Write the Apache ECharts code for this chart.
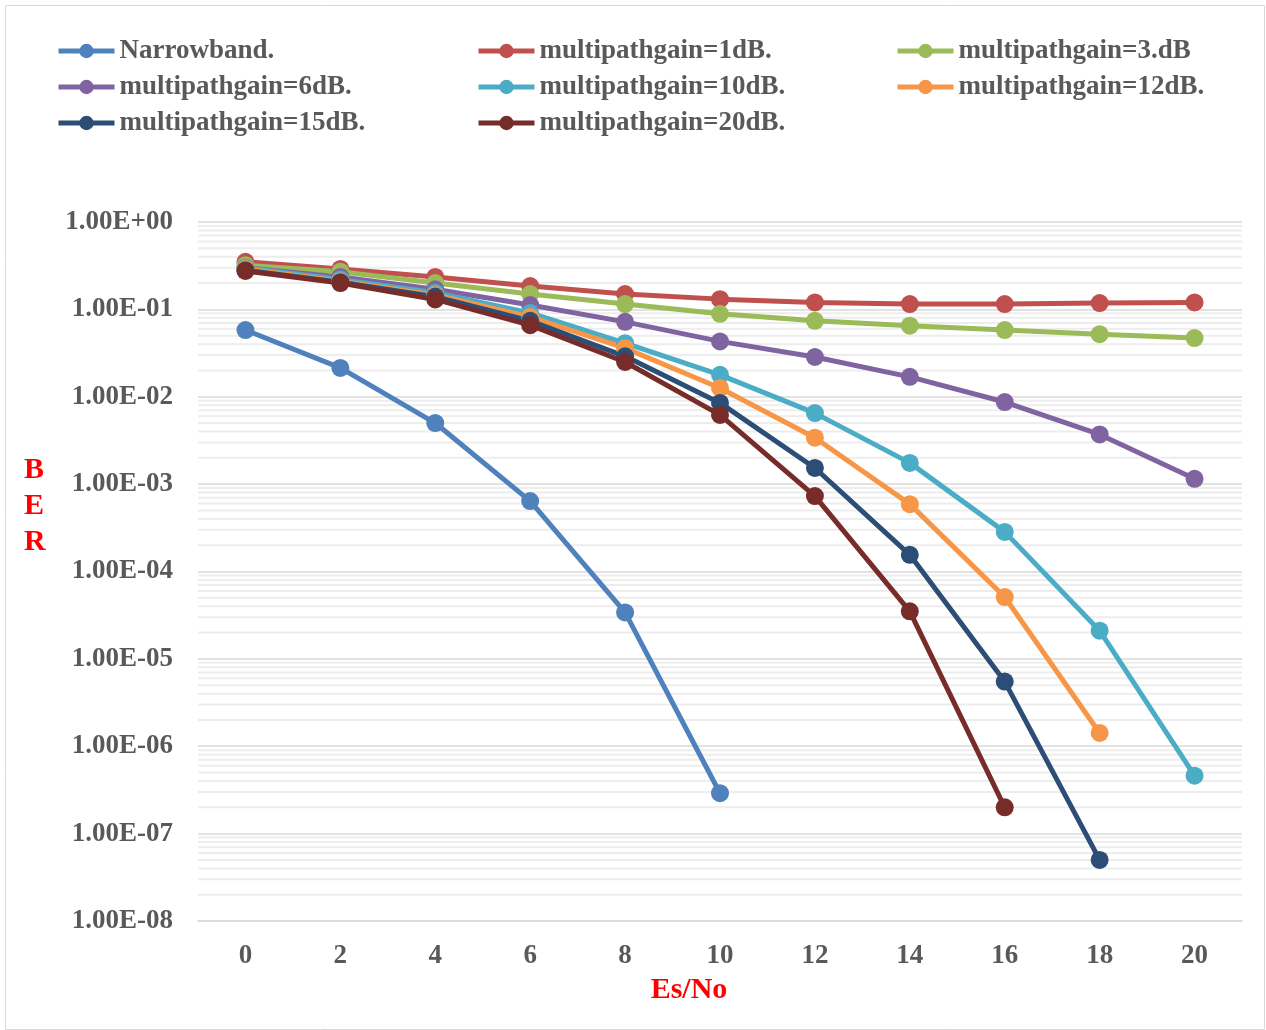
<!DOCTYPE html>
<html>
<head>
<meta charset="utf-8">
<script src="https://cdn.jsdelivr.net/npm/echarts@6/dist/echarts.min.js"></script>
<style>
  html, body { margin: 0; padding: 0; background: #fff; }
  #chart { width: 1266px; height: 1030px; }
</style>
</head>
<body>
<div id="chart"></div>
<script>
const esNo = ['0', '2', '4', '6', '8', '10', '12', '14', '16', '18', '20']

const narrowband = [0.058, 0.0214, 0.0050, 6.4e-4, 3.4e-5, 2.9e-7]
const gain1 = [0.35, 0.29, 0.235, 0.185, 0.15, 0.131, 0.12, 0.115, 0.115, 0.118, 0.12]
const gain3 = [0.32, 0.27, 0.20, 0.15, 0.115, 0.089, 0.074, 0.065, 0.058, 0.052, 0.047]
const gain6 = [0.30, 0.235, 0.17, 0.112, 0.072, 0.043, 0.0285, 0.0169, 0.0087, 0.0037, 0.00115]
const gain10 = [0.30, 0.22, 0.155, 0.091, 0.041, 0.0178, 0.0065, 0.00175, 2.84e-4, 2.1e-5, 4.6e-7]
const gain12 = [0.29, 0.21, 0.146, 0.082, 0.036, 0.0126, 0.0034, 5.9e-4, 5.1e-5, 1.42e-6]
const gain15 = [0.28, 0.205, 0.14, 0.074, 0.029, 0.0085, 0.00153, 1.55e-4, 5.5e-6, 5.0e-8]
const gain20 = [0.275, 0.20, 0.13, 0.066, 0.025, 0.0062, 7.3e-4, 3.5e-5, 2.0e-7]

const seriesNames = [
  'Narrowband.', 'multipathgain=1dB.', 'multipathgain=3.dB',
  'multipathgain=6dB.', 'multipathgain=10dB.', 'multipathgain=12dB.',
  'multipathgain=15dB.', 'multipathgain=20dB.'
]
const seriesData = [narrowband, gain1, gain3, gain6, gain10, gain12, gain15, gain20]
const colors = ['#4F81BD', '#C0504D', '#9BBB59', '#8064A2', '#4BACC6', '#F79646', '#2C4D75', '#772C2A']

// minor grid values 2..9 x 10^k, like the excel log axis
const minorValues = []
for (let k = -8; k < 0; k++) {
  for (let m = 2; m <= 9; m++) {
    minorValues.push(m * Math.pow(10, k))
  }
}

const font = '"Liberation Serif", "Times New Roman", serif'
const grey = '#595959'

function sci(v) {
  const parts = v.toExponential(2).split('e')
  const exp = parseInt(parts[1], 10)
  const sign = exp < 0 ? '-' : '+'
  return parts[0] + 'E' + sign + String(Math.abs(exp)).padStart(2, '0')
}

function minorLine(params, api) {
  const y = api.coord([0, api.value(1)])[1]
  const cs = params.coordSys
  return {
    type: 'line',
    shape: { x1: cs.x, y1: y, x2: cs.x + cs.width, y2: y },
    style: { stroke: '#ededed', lineWidth: 2 },
    silent: true
  }
}

const legendBase = {
  orient: 'vertical',
  top: 36,
  padding: 0,
  itemWidth: 56,
  itemHeight: 18,
  itemGap: 6,
  lineStyle: { width: 5 },
  textStyle: { fontFamily: font, fontWeight: 'bold', fontSize: 27, color: grey, lineHeight: 30 }
}

const chart = echarts.init(document.getElementById('chart'))

chart.setOption({
  animation: false,
  color: colors,
  legend: [
    Object.assign({}, legendBase, { left: 56, data: [seriesNames[0], seriesNames[3], seriesNames[6]] }),
    Object.assign({}, legendBase, { left: 476, data: [seriesNames[1], seriesNames[4], seriesNames[7]] }),
    Object.assign({}, legendBase, { left: 895, data: [seriesNames[2], seriesNames[5]] })
  ],
  grid: { left: 198, right: 24, top: 222, bottom: 109 },
  graphic: [
    {
      type: 'rect',
      left: 3, top: 3,
      shape: { width: 1259, height: 1024 },
      style: { fill: 'none', stroke: '#d9d9d9', lineWidth: 1 },
      silent: true
    },
    {
      type: 'text',
      left: 24, top: 452,
      style: {
        text: 'B\nE\nR',
        font: 'bold 30px ' + font,
        fill: '#FF0000',
        lineHeight: 36,
        align: 'center'
      }
    }
  ],
  xAxis: {
    type: 'category',
    data: esNo,
    boundaryGap: true,
    axisTick: { show: false },
    axisLine: { lineStyle: { color: '#d9d9d9', width: 1.5 } },
    axisLabel: { fontFamily: font, fontWeight: 'bold', fontSize: 27, color: grey, margin: 22 },
    name: 'Es/No',
    nameLocation: 'middle',
    nameGap: 51,
    nameTextStyle: {
      fontFamily: font, fontWeight: 'bold', fontSize: 30, color: '#FF0000',
      padding: [0, 62, 0, 0]
    }
  },
  yAxis: {
    type: 'log',
    logBase: 10,
    min: 1e-8,
    max: 1,
    interval: 1,
    splitNumber: 8,
    axisLine: { show: false },
    axisTick: { show: false },
    splitLine: { lineStyle: { color: '#d9d9d9', width: 1.5 } },
    axisLabel: {
      fontFamily: font, fontWeight: 'bold', fontSize: 27, color: grey, margin: 25,
      formatter: sci
    }
  },
  series: [
    {
      name: 'minor',
      type: 'custom',
      zlevel: 0,
      z: 1,
      silent: true,
      renderItem: minorLine,
      data: minorValues.map(v => [0, v])
    }
  ].concat(seriesNames.map((name, i) => ({
    name: name,
    type: 'line',
    zlevel: 1,
    data: seriesData[i],
    symbol: 'circle',
    symbolSize: 18,
    lineStyle: { width: 5, color: colors[i] },
    itemStyle: { color: colors[i] }
  })))
})
</script>
</body>
</html>
